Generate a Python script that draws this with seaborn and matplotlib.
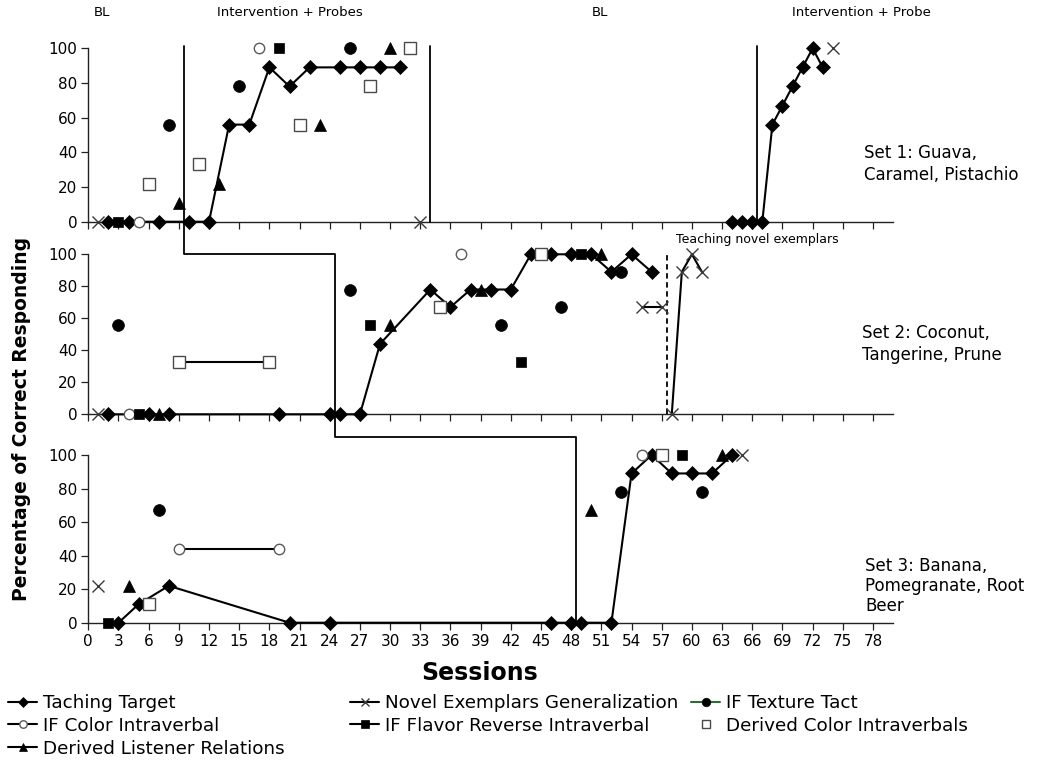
import matplotlib
matplotlib.use("Agg")
import matplotlib.pyplot as plt
import seaborn as sns
from matplotlib.lines import Line2D

# ---------------- data ----------------
x_ticks = list(range(0, 79, 3))
y_ticks = [0, 20, 40, 60, 80, 100]

# Set 1
s1_target_a_x = [2, 4, 7, 10, 12, 14, 16, 18, 20, 22, 25, 27, 29, 31]
s1_target_a_y = [0, 0, 0, 0, 0, 56, 56, 89, 78, 89, 89, 89, 89, 89]
s1_target_b_x = [64, 65, 66, 67, 68, 69, 70, 71, 72, 73]
s1_target_b_y = [0, 0, 0, 0, 56, 67, 78, 89, 100, 89]
s1_novel_x = [1, 33, 74]
s1_novel_y = [0, 0, 100]
s1_texture_x = [8, 15, 26]
s1_texture_y = [56, 78, 100]
s1_color_x = [5, 17]
s1_color_y = [0, 100]
s1_flavor_x = [3, 19]
s1_flavor_y = [0, 100]
s1_dcolor_x = [6, 11, 21, 28, 32]
s1_dcolor_y = [22, 33, 56, 78, 100]
s1_listener_x = [9, 13, 23, 30]
s1_listener_y = [11, 22, 56, 100]

# Set 2
s2_target_x = [2, 6, 8, 19, 24, 25, 27, 29, 34, 36, 38, 40, 42, 44, 46, 48, 50, 52, 54, 56]
s2_target_y = [0, 0, 0, 0, 0, 0, 0, 44, 78, 67, 78, 78, 78, 100, 100, 100, 100, 89, 100, 89]
s2_novel_x = [1]
s2_novel_y = [0]
s2_novel_a_x = [55, 57]
s2_novel_a_y = [67, 67]
s2_novel_b_x = [58, 59, 60, 61]
s2_novel_b_y = [0, 89, 100, 89]
s2_texture_x = [3, 26, 41, 47, 53]
s2_texture_y = [56, 78, 56, 67, 89]
s2_color_x = [4, 37]
s2_color_y = [0, 100]
s2_flavor_x = [5, 28, 43, 49]
s2_flavor_y = [0, 56, 33, 100]
s2_dcolor_line_x = [9, 18]
s2_dcolor_line_y = [33, 33]
s2_dcolor_x = [35, 45]
s2_dcolor_y = [67, 100]
s2_listener_x = [7, 30, 39, 51]
s2_listener_y = [0, 56, 78, 100]

# Set 3
s3_target_x = [3, 5, 8, 20, 24, 46, 48, 49, 52, 54, 56, 58, 60, 62, 64]
s3_target_y = [0, 11, 22, 0, 0, 0, 0, 0, 0, 89, 100, 89, 89, 89, 100]
s3_novel_x = [1, 65]
s3_novel_y = [22, 100]
s3_texture_x = [7, 53, 61]
s3_texture_y = [67, 78, 78]
s3_color_line_x = [9, 19]
s3_color_line_y = [44, 44]
s3_color_x = [55]
s3_color_y = [100]
s3_flavor_x = [2, 59]
s3_flavor_y = [0, 100]
s3_dcolor_x = [6, 57]
s3_dcolor_y = [11, 100]
s3_listener_x = [4, 50, 63]
s3_listener_y = [22, 67, 100]

# phase-change positions (sessions)
stair_x = [9.5, 24.5, 48.5]
set1_phase2_x = [34, 66.5]
set2_dashed_x = 57.5

legend_labels = ["Taching Target", "IF Color Intraverbal", "Derived Listener Relations",
                 "Novel Exemplars Generalization", "IF Flavor Reverse Intraverbal",
                 "IF Texture Tact", "Derived Color Intraverbals"]

# ---------------- styles ----------------
STY = {
    "target": dict(marker="D", markersize=6.8, color="black", markerfacecolor="black",
                   markeredgecolor="black", markeredgewidth=0.5),
    "novel": dict(marker="x", markersize=8, color="black", markerfacecolor="#3a3a3a",
                  markeredgecolor="#3a3a3a", markeredgewidth=1.0),
    "texture": dict(marker="o", markersize=8.5, color="black", markerfacecolor="black",
                    markeredgecolor="black", markeredgewidth=0.5),
    "color": dict(marker="o", markersize=7.5, color="black", markerfacecolor="white",
                  markeredgecolor="#5a5a5a", markeredgewidth=1.0),
    "flavor": dict(marker="s", markersize=7.5, color="black", markerfacecolor="black",
                   markeredgecolor="black", markeredgewidth=0.5),
    "dcolor": dict(marker="s", markersize=8.5, color="black", markerfacecolor="white",
                   markeredgecolor="#4a4a4a", markeredgewidth=1.0),
    "listener": dict(marker="^", markersize=8.5, color="black", markerfacecolor="black",
                     markeredgecolor="black", markeredgewidth=0.5),
}

sns.set_style("ticks")
plt.rcParams["font.family"] = ["DejaVu Sans"]
plt.rcParams["text.color"] = "black"
plt.rcParams["axes.labelcolor"] = "black"
plt.rcParams["xtick.color"] = "black"
plt.rcParams["ytick.color"] = "black"

fig = plt.figure(figsize=(10.48, 7.63), dpi=100)
L, W = 88.3 / 1048, 804.8 / 1048
ax1 = fig.add_axes([L, 1 - 221.7 / 763, W, 173.4 / 763])
ax2 = fig.add_axes([L, 1 - 414.3 / 763, W, 160.0 / 763])
ax3 = fig.add_axes([L, 1 - 622.7 / 763, W, 167.7 / 763])


def draw(ax, x, y, kind, connect):
    st = dict(STY[kind])
    sns.lineplot(x=x, y=y, ax=ax, estimator=None, sort=False,
                 linestyle="-" if connect else "none", linewidth=1.5,
                 clip_on=False, zorder=4, **st)


for ax in (ax1, ax2, ax3):
    ax.set_xlim(0, 80)
    ax.set_ylim(0, 100)
    ax.set_xticks(x_ticks)
    ax.set_yticks(y_ticks)
    ax.tick_params(axis="both", direction="out", length=5, width=0.9,
                   color="#222222", labelcolor="black", labelsize=11, pad=3)
    for sp in ("top", "right"):
        ax.spines[sp].set_visible(False)
    for sp in ("left", "bottom"):
        ax.spines[sp].set_linewidth(1.0)
        ax.spines[sp].set_color("#222222")
    ax.set_facecolor("none")

# Set 1
draw(ax1, s1_target_a_x, s1_target_a_y, "target", True)
draw(ax1, s1_target_b_x, s1_target_b_y, "target", True)
draw(ax1, s1_novel_x, s1_novel_y, "novel", False)
draw(ax1, s1_texture_x, s1_texture_y, "texture", False)
draw(ax1, s1_color_x, s1_color_y, "color", False)
draw(ax1, s1_flavor_x, s1_flavor_y, "flavor", False)
draw(ax1, s1_dcolor_x, s1_dcolor_y, "dcolor", False)
draw(ax1, s1_listener_x, s1_listener_y, "listener", False)

# Set 2
draw(ax2, s2_target_x, s2_target_y, "target", True)
draw(ax2, s2_novel_x, s2_novel_y, "novel", False)
draw(ax2, s2_novel_a_x, s2_novel_a_y, "novel", True)
draw(ax2, s2_novel_b_x, s2_novel_b_y, "novel", True)
draw(ax2, s2_texture_x, s2_texture_y, "texture", False)
draw(ax2, s2_color_x, s2_color_y, "color", False)
draw(ax2, s2_flavor_x, s2_flavor_y, "flavor", False)
draw(ax2, s2_dcolor_line_x, s2_dcolor_line_y, "dcolor", True)
draw(ax2, s2_dcolor_x, s2_dcolor_y, "dcolor", False)
draw(ax2, s2_listener_x, s2_listener_y, "listener", False)

# Set 3
draw(ax3, s3_target_x, s3_target_y, "target", True)
draw(ax3, s3_novel_x, s3_novel_y, "novel", False)
draw(ax3, s3_texture_x, s3_texture_y, "texture", False)
draw(ax3, s3_color_line_x, s3_color_line_y, "color", True)
draw(ax3, s3_color_x, s3_color_y, "color", False)
draw(ax3, s3_flavor_x, s3_flavor_y, "flavor", False)
draw(ax3, s3_dcolor_x, s3_dcolor_y, "dcolor", False)
draw(ax3, s3_listener_x, s3_listener_y, "listener", False)

for ax in (ax1, ax2, ax3):
    ax.set_xlabel("")
    ax.set_ylabel("")
ax1.tick_params(axis="x", labelbottom=False)
ax2.tick_params(axis="x", labelbottom=False)

# phase-change lines
for xv in set1_phase2_x:
    ax1.plot([xv, xv], [0, 101.5], color="black", lw=1.3, clip_on=False, zorder=3)
ax2.plot([set2_dashed_x, set2_dashed_x], [0, 100], color="black", lw=1.3,
         ls=(0, (3, 2)), clip_on=False, zorder=3)

inv = fig.transFigure.inverted()


def fpt(ax, x, y):
    return inv.transform(ax.transData.transform((x, y)))


stair_pts = [fpt(ax1, stair_x[0], 101.5), fpt(ax2, stair_x[0], 100),
             fpt(ax2, stair_x[1], 100), fpt(ax3, stair_x[1], 111),
             fpt(ax3, stair_x[2], 111), fpt(ax3, stair_x[2], 0)]
fig.add_artist(Line2D([p[0] for p in stair_pts], [p[1] for p in stair_pts],
                      transform=fig.transFigure, color="black", lw=1.3))

# texts
def ftxt(px, py, s, **kw):
    fig.text(px / 1048, 1 - py / 763, s, **kw)

ftxt(102, 12, "BL", ha="center", va="center", fontsize=9.5)
ftxt(290, 12, "Intervention + Probes", ha="center", va="center", fontsize=9.5)
ftxt(600, 12, "BL", ha="center", va="center", fontsize=9.5)
ftxt(861, 12, "Intervention + Probe", ha="center", va="center", fontsize=9.5)
ftxt(757, 240, "Teaching novel exemplars", ha="center", va="center", fontsize=9)

ftxt(864, 164, "Set 1: Guava,\nCaramel, Pistachio", ha="left", va="center",
     fontsize=12, linespacing=1.3)
ftxt(862, 344, "Set 2: Coconut,\nTangerine, Prune", ha="left", va="center",
     fontsize=12, linespacing=1.3)
ftxt(865, 586, "Set 3: Banana,\nPomegranate, Root\nBeer", ha="left", va="center",
     fontsize=12, linespacing=1.15)

ftxt(22, 419, "Percentage of Correct Responding", ha="center", va="center",
     rotation=90, fontsize=13.5, fontweight="bold")
ftxt(480, 673, "Sessions", ha="center", va="center", fontsize=17, fontweight="bold")

# legend
def handle(kind, line=True, lc="black"):
    st = dict(STY[kind])
    st["markersize"] = st["markersize"] * 0.72
    st["color"] = lc
    return Line2D([], [], linestyle="-" if line else "none", linewidth=1.5, **st)

cols = [
    ([handle("target"), handle("color"), handle("listener")], legend_labels[0:3], 8),
    ([handle("novel", lc="black"), handle("flavor")], legend_labels[3:5], 350),
    ([handle("texture", lc="#2f6b35"), handle("dcolor", line=False)], legend_labels[5:7], 691),
]
for hs, labs, px in cols:
    fig.legend(hs, labs, loc="upper left", bbox_to_anchor=(px / 1048, 1 - 694 / 763),
               frameon=False, fontsize=13.2, handlelength=1.6, handletextpad=0.3,
               labelspacing=0.26, borderpad=0, borderaxespad=0)

fig.savefig("out.png", dpi=100, facecolor="white")
